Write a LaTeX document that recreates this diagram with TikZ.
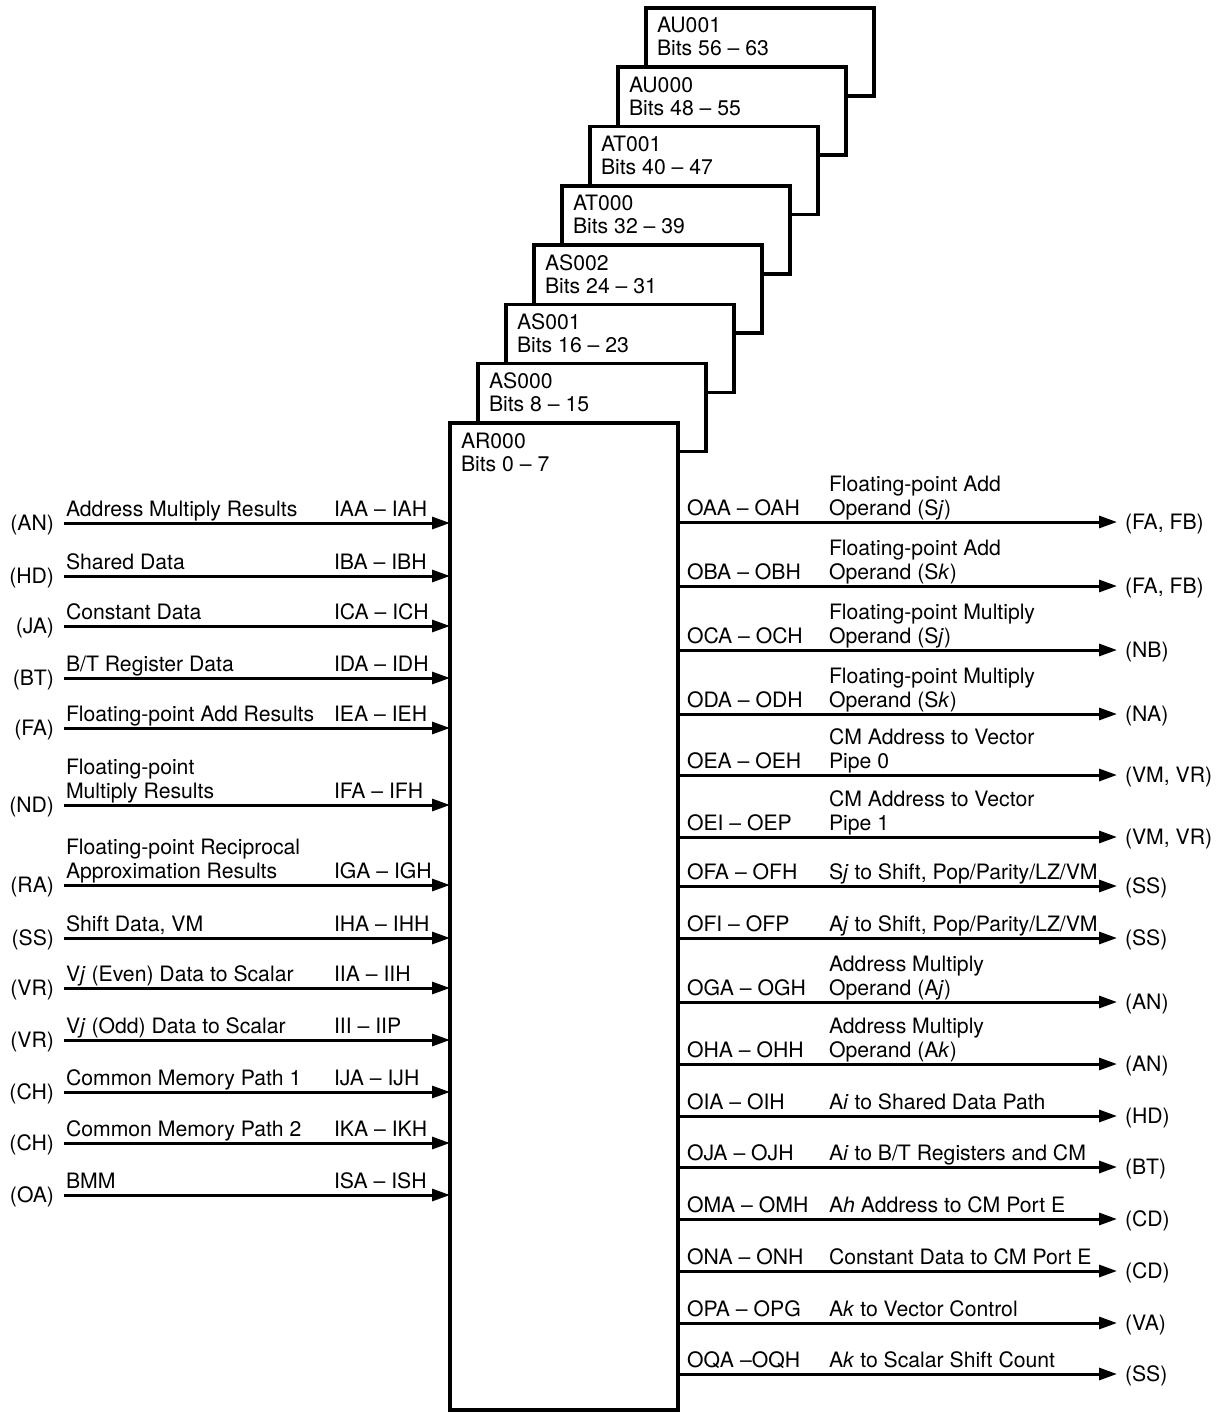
\documentclass[tikz,border=0pt]{standalone}
\usepackage{fontspec}
\setmainfont{TeX Gyre Heros}
\usetikzlibrary{arrows.meta}
\newcommand\insig[5]{% id, y, source, text, code
  \coordinate (i#1) at (64,#2);
  \node[lbl,anchor=east] (is#1) at (54,#2+2) {(#3)};
  \node[lbl,anchor=base west] (id#1) at (66,#2-7) {#4};
  \node[lbl,anchor=base west] (ic#1) at (334,#2-7) {#5};
  \draw[sig] (i#1) -- (i#1 -| AR.west);
}
\newcommand\outsig[5]{% id, y, code, text, target
  \coordinate (oe#1) at (1117,#2);
  \node[lbl,anchor=base west] (oc#1) at (687,#2-7) {#3};
  \node[lbl,anchor=base west] (od#1) at (829,#2-7) {#4};
  \node[lbl,anchor=west] (ot#1) at (1125,#2+2) {(#5)};
  \draw[sig] (AR.east |- oe#1) -- (oe#1);
}
\begin{document}
\begin{tikzpicture}[x=1pt,y=-1pt,
  lbl/.style={font=\fontsize{21.2pt}{24pt}\selectfont, inner sep=0pt, outer sep=0pt},
  regbox/.style={draw, line width=3.5pt, fill=white, minimum width=228pt,
    minimum height=88pt, anchor=north west, inner sep=0pt, outer sep=0pt},
  sig/.style={line width=3pt, -{Triangle[length=18pt,width=12pt]}},
]
\useasboundingbox (0,0) rectangle (1223,1413);

% stacked register boxes (back to front)
\foreach \k/\nm/\lo/\hi in {7/AU001/56/63,6/AU000/48/55,5/AT001/40/47,4/AT000/32/39,
                           3/AS002/24/31,2/AS001/16/23,1/AS000/8/15}{
  \node[regbox] (\nm) at ({450+28*\k},{423-59.3*\k}) {};
  \node[lbl,anchor=base west] (\nm-a) at ([xshift=11pt,yshift=-25pt]\nm.north west) {\nm};
  \node[lbl,anchor=base west] (\nm-b) at ([xshift=11pt,yshift=-48pt]\nm.north west) {Bits \lo\ \textendash\ \hi};
}
\node[regbox, minimum height=987pt] (AR) at (450,423) {};
\node[lbl,anchor=base west] (AR-a) at ([xshift=11pt,yshift=-25pt]AR.north west) {AR000};
\node[lbl,anchor=base west] (AR-b) at ([xshift=11pt,yshift=-48pt]AR.north west) {Bits 0 \textendash\ 7};

% inputs
\insig{a}{523}{AN}{Address Multiply Results}{IAA \textendash\ IAH}
\insig{b}{576}{HD}{Shared Data}{IBA \textendash\ IBH}
\insig{c}{626}{JA}{Constant Data}{ICA \textendash\ ICH}
\insig{d}{678}{BT}{B/T Register Data}{IDA \textendash\ IDH}
\insig{e}{728}{FA}{Floating-point Add Results}{IEA \textendash\ IEH}
\insig{f}{805}{ND}{Multiply Results}{IFA \textendash\ IFH}
\node[lbl,anchor=base west] (idf2) at (66,774) {Floating-point};
\insig{g}{885}{RA}{Approximation Results}{IGA \textendash\ IGH}
\node[lbl,anchor=base west] (idg2) at (66,854) {Floating-point Reciprocal};
\insig{h}{938}{SS}{Shift Data, VM}{IHA \textendash\ IHH}
\insig{i}{988}{VR}{V\textit{j} (Even) Data to Scalar}{IIA \textendash\ IIH}
\insig{j}{1040}{VR}{V\textit{j} (Odd) Data to Scalar}{III \textendash\ IIP}
\insig{k}{1092}{CH}{Common Memory Path 1}{IJA \textendash\ IJH}
\insig{l}{1143}{CH}{Common Memory Path 2}{IKA \textendash\ IKH}
\insig{m}{1195}{OA}{BMM}{ISA \textendash\ ISH}

% outputs
\outsig{a}{522}{OAA \textendash\ OAH}{Operand (S\textit{j})}{FA, FB}
\node[lbl,anchor=base west] (oda2) at (829,491) {Floating-point Add};
\outsig{b}{586}{OBA \textendash\ OBH}{Operand (S\textit{k})}{FA, FB}
\node[lbl,anchor=base west] (odb2) at (829,555) {Floating-point Add};
\outsig{c}{650}{OCA \textendash\ OCH}{Operand (S\textit{j})}{NB}
\node[lbl,anchor=base west] (odc2) at (829,619) {Floating-point Multiply};
\outsig{d}{714}{ODA \textendash\ ODH}{Operand (S\textit{k})}{NA}
\node[lbl,anchor=base west] (odd2) at (829,683) {Floating-point Multiply};
\outsig{e}{775}{OEA \textendash\ OEH}{Pipe 0}{VM, VR}
\node[lbl,anchor=base west] (ode2) at (829,744) {CM Address to Vector};
\outsig{f}{837}{OEI \textendash\ OEP}{Pipe 1}{VM, VR}
\node[lbl,anchor=base west] (odf2) at (829,806) {CM Address to Vector};
\outsig{g}{886}{OFA \textendash\ OFH}{S\textit{j} to Shift, Pop/Parity/LZ/VM}{SS}
\outsig{h}{938}{OFI \textendash\ OFP}{A\textit{j} to Shift, Pop/Parity/LZ/VM}{SS}
\outsig{i}{1002}{OGA \textendash\ OGH}{Operand (A\textit{j})}{AN}
\node[lbl,anchor=base west] (odi2) at (829,971) {Address Multiply};
\outsig{j}{1064}{OHA \textendash\ OHH}{Operand (A\textit{k})}{AN}
\node[lbl,anchor=base west] (odj2) at (829,1033) {Address Multiply};
\outsig{k}{1116}{OIA \textendash\ OIH}{A\textit{i} to Shared Data Path}{HD}
\outsig{l}{1167}{OJA \textendash\ OJH}{A\textit{i} to B/T Registers and CM}{BT}
\outsig{m}{1219}{OMA \textendash\ OMH}{A\textit{h} Address to CM Port E}{CD}
\outsig{n}{1271}{ONA \textendash\ ONH}{Constant Data to CM Port E}{CD}
\outsig{o}{1323}{OPA \textendash\ OPG}{A\textit{k} to Vector Control}{VA}
\outsig{p}{1374}{OQA \textendash OQH}{A\textit{k} to Scalar Shift Count}{SS}
\end{tikzpicture}
\end{document}
